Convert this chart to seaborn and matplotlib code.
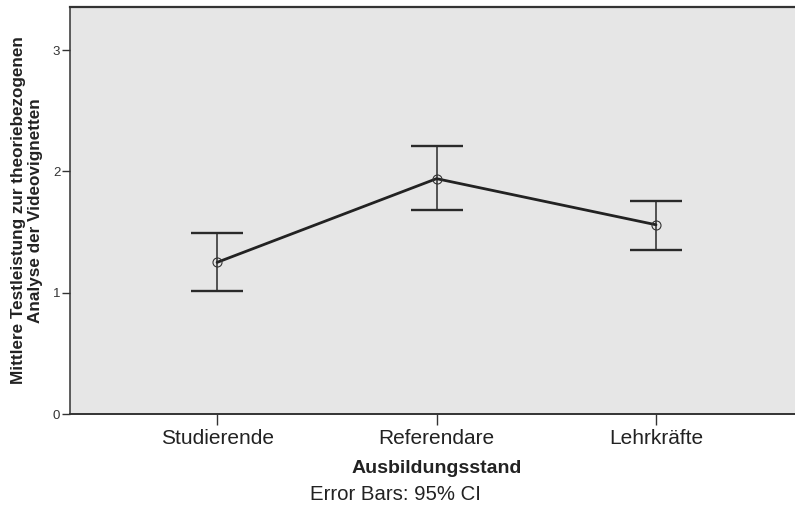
import matplotlib
matplotlib.use("Agg")
import matplotlib.pyplot as plt
import seaborn as sns
import pandas as pd
import numpy as np

# Mean test score per training stage with 95% confidence intervals
categories = ["Studierende", "Referendare", "Lehrkräfte"]
means = [1.25, 1.94, 1.56]
ci_low = [1.01, 1.68, 1.35]
ci_high = [1.49, 2.21, 1.76]
y_ticks = [0, 1, 2, 3]

sns.set_theme(style="ticks")
plt.rcParams["font.family"] = ["Liberation Sans", "DejaVu Sans"]

df = pd.DataFrame({"Ausbildungsstand": categories, "Mittelwert": means})

fig = plt.figure(figsize=(7.95, 5.08), dpi=100)
ax = fig.add_axes([0.0881, 0.1850, 0.9220, 0.8012])
ax.set_facecolor("#e6e6e6")

# Confidence-interval whiskers
x_pos = np.arange(len(categories))
m = np.array(means)
yerr = np.vstack([m - np.array(ci_low), np.array(ci_high) - m])
ax.errorbar(x_pos, m, yerr=yerr, fmt="none", ecolor="#2a2a2a",
            elinewidth=1.1, capsize=18.5, capthick=1.7, zorder=2)

# Mean line with open circle markers
sns.pointplot(data=df, x="Ausbildungsstand", y="Mittelwert", errorbar=None,
              color="#222222", markers="o", linestyles="-", ax=ax,
              markersize=0, linewidth=2.0, zorder=3)
ax.plot(x_pos, m, linestyle="none", marker="o", markersize=6.5,
        markerfacecolor="none", markeredgecolor="#333333", markeredgewidth=0.8,
        zorder=4)

ax.set_xlim(-0.67, 2.67)
ax.set_ylim(0, 3.355)
ax.set_yticks(y_ticks)
ax.set_yticklabels([str(t) for t in y_ticks])

for side in ["top", "left", "bottom"]:
    ax.spines[side].set_visible(True)
    ax.spines[side].set_color("#333333")
ax.spines["top"].set_linewidth(1.6)
ax.spines["left"].set_linewidth(1.1)
ax.spines["bottom"].set_linewidth(1.4)
ax.spines["right"].set_visible(False)

ax.tick_params(axis="y", length=6, width=1.0, color="#333333", pad=1,
               labelsize=9.5, labelcolor="#333333")
ax.tick_params(axis="x", length=8, width=1.0, color="#333333", pad=3,
               labelsize=15, labelcolor="#222222")

ax.set_xlabel("Ausbildungsstand", fontsize=14, fontweight="bold", color="#222222")
ax.xaxis.set_label_coords(0.5, -0.145)
ax.xaxis.label.set_va("baseline")

ax.set_ylabel("Mittlere Testleistung zur theoriebezogenen\nAnalyse der Videovignetten",
              fontsize=12.3, fontweight="bold", color="#222222",
              family=["Liberation Sans Narrow", "Liberation Sans", "DejaVu Sans"],
              linespacing=1.1)
ax.yaxis.set_label_coords(-0.0587, 0.5)
ax.yaxis.label.set_va("center")

fig.text(0.498, 0.0157, "Error Bars: 95% CI", ha="center", va="baseline",
         fontsize=14.7, color="#222222")

fig.savefig("out.png", dpi=100)
